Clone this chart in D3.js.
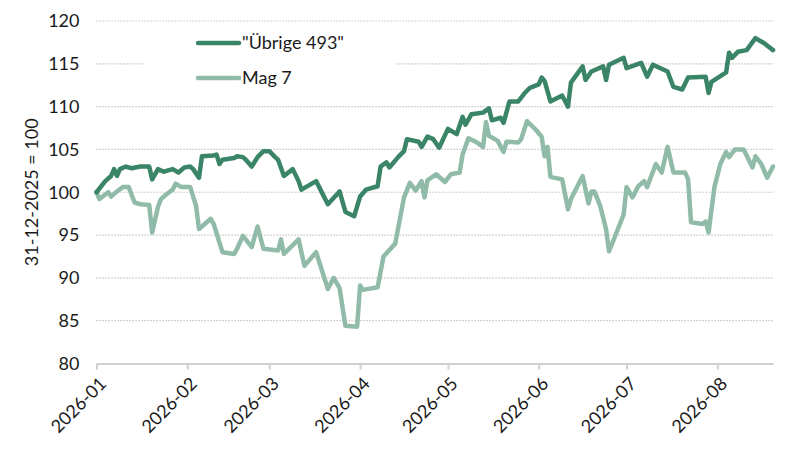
<!DOCTYPE html>
<html>
<head>
<meta charset="utf-8">
<script src="https://cdn.jsdelivr.net/npm/d3@7"></script>
<style>
    body { margin: 0; background: #fff; }
    #chart { width: 802px; height: 455px; }
    text { font-family: Lato, "Open Sans", sans-serif; fill: #1a1a1a; }
</style>
</head>
<body>
<div id="chart"></div>
<script>
// Series data (index, 31-12-2025 = 100)
const seriesNames = ['"Übrige 493"', "Mag 7"];
const seriesColors = ["#3a8467", "#91bba9"];

const uebrigeDates = [
    "2026-01-01","2026-01-04","2026-01-06","2026-01-07","2026-01-08","2026-01-09","2026-01-11","2026-01-13",
    "2026-01-16","2026-01-19","2026-01-20","2026-01-22","2026-01-24","2026-01-27","2026-01-29","2026-01-31",
    "2026-02-02","2026-02-03","2026-02-05","2026-02-06","2026-02-10","2026-02-11","2026-02-12","2026-02-13",
    "2026-02-17","2026-02-18","2026-02-20","2026-02-21","2026-02-23","2026-02-25","2026-02-27","2026-03-01",
    "2026-03-03","2026-03-04","2026-03-06","2026-03-09","2026-03-11","2026-03-12","2026-03-17","2026-03-21",
    "2026-03-25","2026-03-27","2026-03-30","2026-04-01","2026-04-03","2026-04-07","2026-04-08","2026-04-10",
    "2026-04-11","2026-04-14","2026-04-16","2026-04-17","2026-04-21","2026-04-22","2026-04-24","2026-04-26",
    "2026-04-28","2026-05-01","2026-05-04","2026-05-06","2026-05-07","2026-05-09","2026-05-13","2026-05-15",
    "2026-05-16","2026-05-19","2026-05-20","2026-05-22","2026-05-25","2026-05-27","2026-05-29","2026-06-01",
    "2026-06-02","2026-06-03","2026-06-05","2026-06-09","2026-06-11","2026-06-12","2026-06-16","2026-06-17",
    "2026-06-19","2026-06-23","2026-06-24","2026-06-25","2026-06-30","2026-07-01","2026-07-06","2026-07-08",
    "2026-07-10","2026-07-15","2026-07-17","2026-07-20","2026-07-22","2026-07-28","2026-07-29","2026-07-30",
    "2026-08-04","2026-08-05","2026-08-06","2026-08-08","2026-08-11","2026-08-14","2026-08-17","2026-08-20"
];
const uebrigeValues = [
    100.0, 101.3, 101.9, 102.7, 101.9, 102.7, 103.0, 102.8,
    103.0, 103.0, 101.5, 102.7, 102.4, 102.7, 102.3, 102.9,
    103.0, 102.7, 101.7, 104.2, 104.3, 104.4, 103.3, 103.8,
    104.0, 104.2, 104.1, 103.8, 103.0, 104.1, 104.8, 104.8,
    104.1, 103.8, 101.9, 102.7, 101.3, 100.3, 101.3, 98.6,
    100.1, 97.7, 97.2, 99.5, 100.3, 100.7, 103.0, 103.5,
    102.9, 104.1, 104.8, 106.2, 105.9, 105.3, 106.5, 106.2,
    105.2, 107.4, 106.8, 108.8, 107.9, 109.1, 109.3, 109.8,
    108.4, 108.7, 108.1, 110.6, 110.6, 111.5, 112.2, 112.6,
    113.4, 113.0, 110.6, 111.3, 110.0, 112.8, 114.7, 113.1,
    114.1, 114.7, 113.1, 114.9, 115.7, 114.5, 115.1, 113.5,
    114.9, 114.1, 112.3, 112.0, 113.4, 113.5, 111.6, 112.9,
    114.0, 116.3, 115.7, 116.4, 116.6, 118.0, 117.4, 116.6
];

const magDates = [
    "2026-01-01","2026-01-02","2026-01-05","2026-01-06","2026-01-08","2026-01-10","2026-01-12","2026-01-14",
    "2026-01-16","2026-01-19","2026-01-20","2026-01-22","2026-01-23","2026-01-25","2026-01-27","2026-01-28",
    "2026-01-30","2026-02-02","2026-02-04","2026-02-05","2026-02-09","2026-02-10","2026-02-13","2026-02-17",
    "2026-02-18","2026-02-20","2026-02-23","2026-02-25","2026-02-27","2026-03-04","2026-03-05","2026-03-06",
    "2026-03-11","2026-03-13","2026-03-17","2026-03-21","2026-03-23","2026-03-25","2026-03-27","2026-03-31",
    "2026-04-01","2026-04-02","2026-04-07","2026-04-09","2026-04-13","2026-04-16","2026-04-18","2026-04-20",
    "2026-04-22","2026-04-23","2026-04-24","2026-04-27","2026-04-30","2026-05-02","2026-05-05","2026-05-06",
    "2026-05-08","2026-05-11","2026-05-13","2026-05-14","2026-05-15","2026-05-18","2026-05-20","2026-05-21",
    "2026-05-25","2026-05-26","2026-05-28","2026-05-31","2026-06-02","2026-06-03","2026-06-04","2026-06-05",
    "2026-06-09","2026-06-11","2026-06-12","2026-06-16","2026-06-17","2026-06-18","2026-06-19","2026-06-20",
    "2026-06-22","2026-06-24","2026-06-25","2026-06-27","2026-06-30","2026-07-01","2026-07-03","2026-07-05",
    "2026-07-07","2026-07-08","2026-07-11","2026-07-13","2026-07-15","2026-07-17","2026-07-21","2026-07-22",
    "2026-07-23","2026-07-27","2026-07-28","2026-07-29","2026-07-31","2026-08-02","2026-08-04","2026-08-05",
    "2026-08-07","2026-08-10","2026-08-13","2026-08-14","2026-08-16","2026-08-18","2026-08-20"
];
const magValues = [
    100.0, 99.2, 100.0, 99.5, 100.1, 100.6, 100.6, 98.8,
    98.6, 98.5, 95.3, 98.3, 99.2, 99.8, 100.3, 101.0,
    100.6, 100.6, 98.4, 95.7, 96.9, 96.3, 93.0, 92.8,
    93.4, 94.9, 93.6, 96.0, 93.4, 93.2, 94.5, 92.8,
    94.5, 91.4, 93.0, 88.7, 90.0, 88.8, 84.4, 84.3,
    89.1, 88.6, 88.9, 92.5, 94.0, 99.4, 101.1, 100.2,
    101.3, 99.4, 101.4, 102.1, 101.2, 102.1, 102.3, 104.4,
    106.3, 105.8, 105.3, 108.2, 106.6, 106.0, 104.7, 105.9,
    105.8, 106.2, 108.3, 107.3, 106.5, 104.2, 105.3, 101.8,
    101.5, 98.0, 99.2, 101.9, 100.3, 98.7, 100.1, 100.1,
    98.4, 95.7, 93.1, 94.8, 97.4, 100.6, 99.4, 100.7,
    101.3, 100.6, 103.3, 102.3, 105.3, 102.3, 102.3, 101.5,
    96.5, 96.3, 96.6, 95.3, 100.6, 103.3, 104.7, 104.1,
    105.0, 105.0, 102.9, 104.2, 103.3, 101.7, 103.0
];

const yTicks = [80, 85, 90, 95, 100, 105, 110, 115, 120];
const monthTicks = ["2026-01-01","2026-02-01","2026-03-01","2026-04-01","2026-05-01","2026-06-01","2026-07-01","2026-08-01"];
const yLabel = "31-12-2025 = 100";

function drawChart() {
    const parse = d3.timeParse("%Y-%m-%d");
    const totalWidth = 802, totalHeight = 455;
    const margin = {top: 21, right: 29, bottom: 91.5, left: 96.5};
    const width = totalWidth - margin.left - margin.right;
    const height = totalHeight - margin.top - margin.bottom;

    const series = [
        {name: seriesNames[0], color: seriesColors[0], data: uebrigeDates.map((d, i) => ({date: parse(d), value: uebrigeValues[i]}))},
        {name: seriesNames[1], color: seriesColors[1], data: magDates.map((d, i) => ({date: parse(d), value: magValues[i]}))}
    ];

    const svg = d3.select("#chart")
        .append("svg")
        .attr("width", totalWidth)
        .attr("height", totalHeight)
        .append("g")
        .attr("transform", `translate(${margin.left},${margin.top})`);

    // Scales
    const xScale = d3.scaleTime()
        .domain([parse(uebrigeDates[0]), parse(uebrigeDates[uebrigeDates.length - 1])])
        .range([0, width]);

    const yScale = d3.scaleLinear()
        .domain([80, 120])
        .range([height, 0]);

    // Dotted horizontal gridlines
    svg.append("g")
        .selectAll("line")
        .data(yTicks.filter(t => t !== 80))
        .enter()
        .append("line")
        .attr("x1", 0)
        .attr("x2", width)
        .attr("y1", d => yScale(d))
        .attr("y2", d => yScale(d))
        .attr("stroke", "#b5b5b5")
        .attr("stroke-width", 1.2)
        .attr("stroke-dasharray", "1.2,1.8");

    // Y axis (labels only)
    const yAxis = svg.append("g")
        .call(d3.axisLeft(yScale).tickValues(yTicks).tickSize(0).tickPadding(17));
    yAxis.select(".domain").remove();
    yAxis.selectAll("text")
        .style("font-size", "18px")
        .style("font-family", "Lato, sans-serif")
        .attr("fill", "#1a1a1a");

    // X axis
    const xAxis = svg.append("g")
        .attr("transform", `translate(0,${height})`)
        .call(d3.axisBottom(xScale)
            .tickValues(monthTicks.map(parse))
            .tickFormat(d3.timeFormat("%Y-%m"))
            .tickSizeInner(6)
            .tickSizeOuter(0));
    xAxis.select(".domain")
        .attr("stroke", "#d0d0d0")
        .attr("stroke-width", 2);
    xAxis.selectAll(".tick line")
        .attr("stroke", "#d0d0d0")
        .attr("stroke-width", 2);
    xAxis.selectAll("text")
        .style("font-size", "18px")
        .style("font-family", "Lato, sans-serif")
        .attr("fill", "#1a1a1a")
        .style("text-anchor", "end")
        .attr("x", 0)
        .attr("y", 0)
        .attr("dy", "0.35em")
        .attr("transform", "translate(6,17) rotate(-45)");

    // Y axis label
    svg.append("text")
        .attr("text-anchor", "middle")
        .attr("transform", "rotate(-90)")
        .attr("x", -height / 2)
        .attr("y", -margin.left + 38)
        .style("font-size", "18px")
        .text(yLabel);

    // Lines
    const line = d3.line()
        .x(d => xScale(d.date))
        .y(d => yScale(d.value));

    // draw Mag 7 first so the dark line sits on top
    svg.selectAll(".series")
        .data(series.slice().reverse())
        .enter()
        .append("path")
        .attr("class", "series")
        .attr("fill", "none")
        .attr("stroke", d => d.color)
        .attr("stroke-width", 4.5)
        .attr("stroke-linejoin", "round")
        .attr("stroke-linecap", "round")
        .attr("d", d => line(d.data));

    // Legend with white box over the gridline
    const legend = svg.append("g")
        .attr("transform", `translate(${143 - margin.left},${28 - margin.top})`);

    legend.append("rect")
        .attr("width", 252)
        .attr("height", 68)
        .attr("fill", "#fff");

    const item = legend.selectAll(".legend-item")
        .data(series)
        .enter()
        .append("g")
        .attr("class", "legend-item")
        .attr("transform", (d, i) => `translate(0,${15 + i * 35})`);

    item.append("line")
        .attr("x1", 55)
        .attr("x2", 96)
        .attr("stroke", d => d.color)
        .attr("stroke-width", 4.5)
        .attr("stroke-linecap", "round");

    item.append("text")
        .attr("x", 99)
        .attr("dy", "0.35em")
        .style("font-size", "18px")
        .text(d => d.name);
}

drawChart();
</script>
</body>
</html>
